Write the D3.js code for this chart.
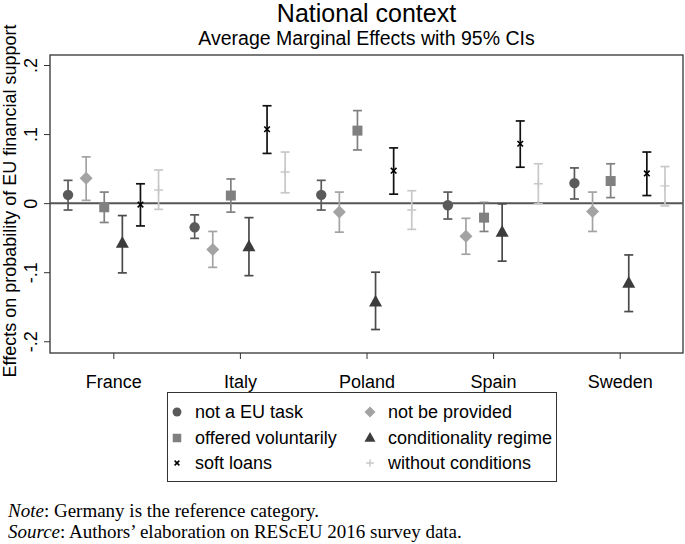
<!DOCTYPE html>
<html><head><meta charset="utf-8">
<script src="https://cdn.jsdelivr.net/npm/d3@7"></script>
<style>body{margin:0;background:#fff}svg{display:block}</style>
</head><body>
<svg id="c" width="685" height="544"></svg>
<script>
const countries = ["France","Italy","Poland","Spain","Sweden"];
const seriesNames = ["not a EU task","not be provided","offered voluntarily","conditionality regime","soft loans","without conditions"];
// estimates per series, in country order
const notEUtask      = [0.012, -0.035, 0.012, -0.003, 0.029];
const notEUtaskLo    = [-0.010, -0.051, -0.010, -0.023, 0.006];
const notEUtaskHi    = [0.033, -0.017, 0.033, 0.016, 0.051];
const notProvided    = [0.036, -0.067, -0.013, -0.048, -0.012];
const notProvidedLo  = [0.004, -0.093, -0.042, -0.074, -0.041];
const notProvidedHi  = [0.067, -0.041, 0.016, -0.022, 0.016];
const voluntarily    = [-0.006, 0.011, 0.105, -0.021, 0.032];
const voluntarilyLo  = [-0.028, -0.013, 0.077, -0.041, 0.008];
const voluntarilyHi  = [0.016, 0.035, 0.134, 0.001, 0.057];
const conditionality   = [-0.058, -0.063, -0.143, -0.042, -0.116];
const conditionalityLo = [-0.101, -0.105, -0.183, -0.084, -0.157];
const conditionalityHi = [-0.018, -0.021, -0.100, -0.001, -0.075];
const softLoans      = [-0.002, 0.107, 0.047, 0.086, 0.043];
const softLoansLo    = [-0.033, 0.072, 0.013, 0.052, 0.011];
const softLoansHi    = [0.028, 0.141, 0.080, 0.119, 0.074];
const withoutCond    = [0.019, 0.045, -0.010, 0.028, 0.025];
const withoutCondLo  = [-0.009, 0.015, -0.038, -0.001, -0.004];
const withoutCondHi  = [0.048, 0.074, 0.018, 0.057, 0.053];
const yTicks = [-0.2, -0.1, 0, 0.1, 0.2];
const yTickLabels = ["-.2","-.1","0",".1",".2"];

const series = [
  {name: seriesNames[0], v: notEUtask, lo: notEUtaskLo, hi: notEUtaskHi, sym: "circle", color: "#5a5a5a", bar: "#5a5a5a"},
  {name: seriesNames[1], v: notProvided, lo: notProvidedLo, hi: notProvidedHi, sym: "diamond", color: "#a3a3a3", bar: "#a3a3a3"},
  {name: seriesNames[2], v: voluntarily, lo: voluntarilyLo, hi: voluntarilyHi, sym: "square", color: "#808080", bar: "#808080"},
  {name: seriesNames[3], v: conditionality, lo: conditionalityLo, hi: conditionalityHi, sym: "triangle", color: "#3c3c3c", bar: "#4a4a4a"},
  {name: seriesNames[4], v: softLoans, lo: softLoansLo, hi: softLoansHi, sym: "x", color: "#000000", bar: "#111111"},
  {name: seriesNames[5], v: withoutCond, lo: withoutCondLo, hi: withoutCondHi, sym: "plus", color: "#c8c8c8", bar: "#c8c8c8"}
];

const SANS = "Liberation Sans, Arial, sans-serif";
const SERIF = "Liberation Serif, Times New Roman, serif";
const svg = d3.select("#c");
const L = 50, R = 683, T = 55, B = 353;
const x = d3.scaleLinear().domain([0.5, 5.5]).range([L, R]);
const y = d3.scaleLinear().domain([-0.217, 0.2145]).range([B, T]);
const offStep = 0.143;

// title
svg.append("text").attr("x", (L+R)/2).attr("y", 22).attr("text-anchor","middle")
  .attr("font-family",SANS).attr("font-size", 25).text("National context");
svg.append("text").attr("x", (L+R)/2).attr("y", 45).attr("text-anchor","middle")
  .attr("font-family",SANS).attr("font-size", 19.5).text("Average Marginal Effects with 95% CIs");

// plot frame
svg.append("rect").attr("x", L).attr("y", T).attr("width", R-L).attr("height", B-T)
  .attr("fill","none").attr("stroke","#333").attr("stroke-width",1.3);

// zero line
svg.append("line").attr("x1", L).attr("x2", R).attr("y1", y(0)).attr("y2", y(0))
  .attr("stroke","#555").attr("stroke-width",2);

// y axis
const yAxis = svg.append("g").attr("transform", `translate(${L},0)`)
  .call(d3.axisLeft(y).tickValues(yTicks).tickSize(6).tickFormat((d,i)=>yTickLabels[i]));
yAxis.select(".domain").remove();
yAxis.selectAll(".tick line").attr("stroke","#333");
yAxis.selectAll(".tick text").attr("font-family",SANS).attr("font-size",18)
  .attr("fill","#000").attr("text-anchor","middle").attr("x",0).attr("dy",0)
  .attr("transform", "translate(-13,0) rotate(-90)");

// x axis
const xAxis = svg.append("g").attr("transform", `translate(0,${B})`)
  .call(d3.axisBottom(x).tickValues([1,2,3,4,5]).tickSize(6).tickFormat((d,i)=>countries[i]));
xAxis.select(".domain").remove();
xAxis.selectAll(".tick line").attr("stroke","#333");
xAxis.selectAll(".tick text").attr("font-family",SANS).attr("font-size",18)
  .attr("fill","#000").attr("y", 35).attr("dy",0);

// y title
svg.append("text").attr("transform", `translate(16,${201}) rotate(-90)`).attr("text-anchor","middle")
  .attr("font-family",SANS).attr("font-size",18)
  .text("Effects on probability of EU financial support");

function drawSym(g, sym, color, cx, cy, scale) {
  scale = scale || 1;
  if (sym === "circle") g.append("circle").attr("cx",cx).attr("cy",cy).attr("r",5.2*scale).attr("fill",color);
  else if (sym === "square") g.append("rect").attr("x",cx-5*scale).attr("y",cy-5*scale).attr("width",10*scale).attr("height",10*scale).attr("fill",color);
  else if (sym === "diamond") { const s=6.5*scale; g.append("path").attr("d",`M${cx},${cy-s}L${cx+s},${cy}L${cx},${cy+s}L${cx-s},${cy}Z`).attr("fill",color); }
  else if (sym === "triangle") { const s=6.5*scale; g.append("path").attr("d",`M${cx},${cy-s*1.1}L${cx+s},${cy+s*0.7}L${cx-s},${cy+s*0.7}Z`).attr("fill",color); }
  else if (sym === "x") { const s=2.8*scale; g.append("path").attr("d",`M${cx-s},${cy-s}L${cx+s},${cy+s}M${cx-s},${cy+s}L${cx+s},${cy-s}`).attr("stroke",color).attr("stroke-width",1.6); }
  else if (sym === "plus") { const s=4.5*scale; g.append("path").attr("d",`M${cx-s},${cy}L${cx+s},${cy}M${cx},${cy-s}L${cx},${cy+s}`).attr("stroke",color).attr("stroke-width",1.4); }
}

const plot = svg.append("g");
series.forEach((s, si) => {
  const off = (si - 2.5) * offStep;
  countries.forEach((c, ci) => {
    const cx = x(ci + 1 + off);
    const g = plot.append("g");
    g.append("line").attr("x1",cx).attr("x2",cx).attr("y1",y(s.lo[ci])).attr("y2",y(s.hi[ci]))
      .attr("stroke",s.bar).attr("stroke-width",1.7);
    [s.lo[ci], s.hi[ci]].forEach(v => g.append("line").attr("x1",cx-4.5).attr("x2",cx+4.5).attr("y1",y(v)).attr("y2",y(v))
      .attr("stroke",s.bar).attr("stroke-width",1.7));
    drawSym(g, s.sym, s.color, cx, y(s.v[ci]));
  });
});

// legend
const lg = svg.append("g");
lg.append("rect").attr("x",167.5).attr("y",392.5).attr("width",389).attr("height",89)
  .attr("fill","none").attr("stroke","#333").attr("stroke-width",1);
const rowY = [412, 438, 463];
series.forEach((s, k) => {
  const col = k % 2, row = Math.floor(k / 2);
  const mx = col === 0 ? 177 : 370, ty = rowY[row];
  drawSym(lg, s.sym, s.color, mx, ty, 0.85);
  lg.append("text").attr("x", mx + 18).attr("y", ty).attr("dy","0.36em")
    .attr("font-family",SANS).attr("font-size",18).text(s.name);
});

// notes
const note = svg.append("text").attr("x",8).attr("y",517).attr("font-family",SERIF).attr("font-size",19);
note.append("tspan").attr("font-style","italic").text("Note");
note.append("tspan").text(": Germany is the reference category.");
const src = svg.append("text").attr("x",8).attr("y",538).attr("font-family",SERIF).attr("font-size",19);
src.append("tspan").attr("font-style","italic").text("Source");
src.append("tspan").text(": Authors\u2019 elaboration on REScEU 2016 survey data.");
</script>
</body></html>
